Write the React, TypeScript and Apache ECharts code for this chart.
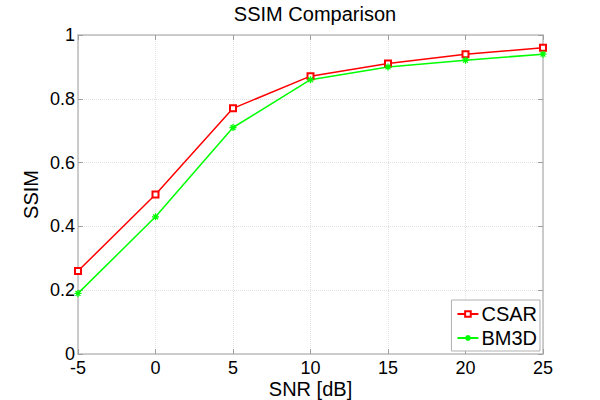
import React, { useEffect, useRef } from "react";
import * as echarts from "echarts";

const snr = [-5, 0, 5, 10, 15, 20, 25];
const csar = [0.26, 0.5, 0.77, 0.871, 0.911, 0.94, 0.96];
const bm3d = [0.19, 0.43, 0.71, 0.86, 0.9, 0.921, 0.94];
const seriesNames = ["CSAR", "BM3D"];

const FONT = "Liberation Sans, Arial, sans-serif";
const AXIS_COLOR = "#bdbdbd";
const GRID_COLOR = "#e2e2e2";
const ASTERISK = "path://M5,0 L5,10 M0,5 L10,5 M1.5,1.5 L8.5,8.5 M8.5,1.5 L1.5,8.5";

export default function App() {
  const ref = useRef<HTMLDivElement>(null);
  useEffect(() => {
    if (!ref.current) return;
    const chart = echarts.init(ref.current, null, { renderer: "svg" });
    const baseX = {
      type: "value",
      min: -5,
      max: 25,
      interval: 5,
      axisLine: { show: true, onZero: false, lineStyle: { color: AXIS_COLOR, width: 1.5 } },
      axisTick: { show: true, inside: true, length: 5, lineStyle: { color: "#a0a0a0" } },
    };
    const baseY = {
      type: "value",
      min: 0,
      max: 1,
      interval: 0.2,
      axisLine: { show: true, onZero: false, lineStyle: { color: AXIS_COLOR, width: 1.5 } },
      axisTick: { show: true, inside: true, length: 5, lineStyle: { color: "#a0a0a0" } },
    };
    chart.setOption({
      animation: false,
      backgroundColor: "#fff",
      textStyle: { fontFamily: FONT },
      title: {
        text: "SSIM Comparison",
        left: 310,
        textAlign: "center",
        top: -1,
        textStyle: { fontFamily: FONT, fontSize: 20, fontWeight: "normal", color: "#000" },
      },
      grid: { left: 78, right: 57, top: 35, bottom: 46, containLabel: false, outerBoundsMode: "none" },
      legend: {
        right: 60,
        bottom: 49,
        orient: "vertical",
        backgroundColor: "#fff",
        borderColor: "#b0b0b0",
        borderWidth: 1,
        borderRadius: 0,
        padding: [4, 3, 3, 5],
        itemGap: 4,
        itemWidth: 21,
        itemHeight: 7,
        textStyle: { fontFamily: FONT, fontSize: 20, color: "#000", padding: [0, 0, 0, -2] },
        data: seriesNames,
      },
      xAxis: [
        {
          ...baseX,
          position: "bottom",
          name: "SNR [dB]",
          nameLocation: "middle",
          nameGap: 25,
          nameMoveOverlap: false,
          nameTextStyle: { fontFamily: FONT, fontSize: 20, color: "#000" },
          axisLabel: { fontFamily: FONT, fontSize: 18, color: "#000", margin: 5 },
          splitLine: { show: true, lineStyle: { color: GRID_COLOR, type: "dotted", width: 1 } },
        },
        {
          ...baseX,
          position: "top",
          axisLabel: { show: false },
          splitLine: { show: false },
        },
      ],
      yAxis: [
        {
          ...baseY,
          position: "left",
          name: "SSIM",
          nameLocation: "middle",
          nameGap: 37,
          nameMoveOverlap: false,
          nameTextStyle: { fontFamily: FONT, fontSize: 20, color: "#000" },
          axisLabel: { fontFamily: FONT, fontSize: 18, color: "#000", margin: 3 },
          splitLine: { show: true, lineStyle: { color: GRID_COLOR, type: "dotted", width: 1 } },
        },
        {
          ...baseY,
          position: "right",
          axisLabel: { show: false },
          splitLine: { show: false },
        },
      ],
      series: [
        {
          name: seriesNames[0],
          type: "line",
          xAxisIndex: 0,
          yAxisIndex: 0,
          data: snr.map((x, i) => [x, csar[i]]),
          symbol: "emptyRect",
          symbolSize: 6,
          lineStyle: { color: "#ff0000", width: 1.5 },
          itemStyle: { color: "#ff0000", borderColor: "#ff0000", borderWidth: 1.2 },
        },
        {
          name: seriesNames[1],
          type: "line",
          xAxisIndex: 0,
          yAxisIndex: 0,
          data: snr.map((x, i) => [x, bm3d[i]]),
          symbol: ASTERISK,
          symbolSize: 7,
          lineStyle: { color: "#00ff00", width: 1.5 },
          itemStyle: { color: "#00ff00", borderColor: "#00ff00", borderWidth: 1.3 },
        },
      ],
    });
    return () => chart.dispose();
  }, []);
  return <div ref={ref} style={{ position: "absolute", left: 0, top: 0, width: 600, height: 400 }} />;
}
